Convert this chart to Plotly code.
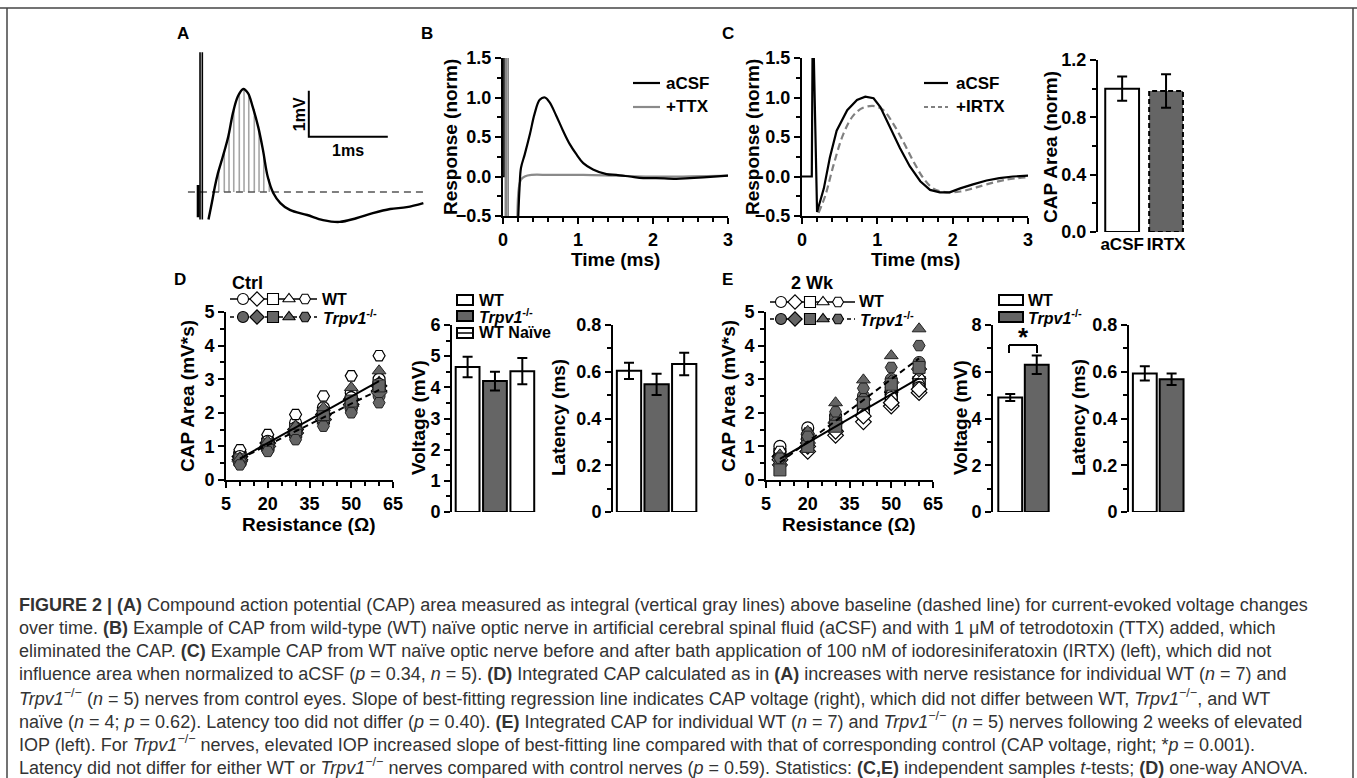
import plotly.graph_objects as go

W, H = 1357, 778
FONT = "Liberation Sans, Arial, Helvetica, sans-serif"
CAPFONT = "Liberation Sans Narrow, Arial Narrow, Liberation Sans, sans-serif"
GRAY = "#656565"

# ---------------- data ----------------
# Panel A: example CAP trace (ms, mV)
a_time = [0.12, 0.17, 0.20, 0.24, 0.30, 0.37, 0.43, 0.49, 0.56, 0.62, 0.68, 0.75, 0.81, 0.87,
          0.94, 1.03, 1.15, 1.37, 1.57, 1.78, 1.99, 2.20, 2.42, 2.63, 2.84]
a_volt = [-0.60, -0.17, 0.11, 0.41, 0.76, 1.20, 1.72, 2.07, 2.24, 2.15, 1.85, 1.41, 0.91, 0.33,
          -0.02, -0.24, -0.39, -0.50, -0.61, -0.65, -0.57, -0.46, -0.37, -0.33, -0.24]
a_artifact_t = [0.013, 0.042]
a_artifact_range = [-0.60, 3.04]
a_mark_t = -0.01
a_mark_range = [-0.55, 0.15]
a_integral_t = [0.25, 0.32, 0.38, 0.44, 0.51, 0.57, 0.63, 0.70, 0.76, 0.82, 0.89]
a_integral_v = [0.45, 0.85, 1.25, 1.78, 2.10, 2.23, 2.12, 1.80, 1.32, 0.80, 0.28]
a_baseline_t = [-0.14, 2.87]
a_scale_origin = [1.39, 1.20]   # 1 ms x 1 mV scale bar

# Panel B
b_t_acsf = [0.20, 0.22, 0.24, 0.29, 0.36, 0.42, 0.49, 0.56, 0.62, 0.71, 0.80, 0.89, 0.98, 1.07,
            1.20, 1.38, 1.51, 1.69, 1.87, 2.04, 2.31, 2.49, 2.67, 3.0]
b_acsf = [-0.60, -0.15, 0.11, 0.28, 0.54, 0.79, 0.97, 1.00, 0.94, 0.77, 0.58, 0.41, 0.28, 0.17,
          0.09, 0.03, 0.02, 0.00, -0.02, -0.02, -0.03, -0.02, -0.01, 0.01]
b_t_ttx = [0.19, 0.21, 0.24, 0.29, 0.38, 0.62, 1.07, 1.51, 1.96, 2.40, 3.0]
b_ttx = [-0.60, -0.15, -0.04, 0.00, 0.02, 0.02, 0.02, 0.01, 0.00, 0.00, 0.01]
b_stim_black_t = [0.0, 0.012, 0.012]
b_stim_black_v = [0.0, 0.0, 1.6]
b_stim_gray_t = [0.03, 0.05, 0.07]

# Panel C
c_t_acsf = [0.0, 0.13, 0.14, 0.155, 0.20, 0.29, 0.37, 0.46, 0.60, 0.73, 0.84, 0.95, 1.04, 1.17,
            1.30, 1.43, 1.57, 1.70, 1.83, 1.96, 2.10, 2.27, 2.45, 2.62, 2.80, 3.0]
c_acsf = [0.0, 0.0, 1.6, 1.6, -0.45, -0.15, 0.24, 0.58, 0.84, 0.97, 1.01, 0.99, 0.88, 0.62,
          0.36, 0.13, -0.06, -0.17, -0.20, -0.20, -0.15, -0.10, -0.05, -0.02, 0.00, 0.01]
c_t_irtx = [0.22, 0.31, 0.42, 0.55, 0.68, 0.81, 0.97, 1.08, 1.21, 1.35, 1.48, 1.61, 1.74, 1.92,
            2.10, 2.27, 2.45, 2.71, 3.0]
c_irtx = [-0.46, -0.24, 0.15, 0.54, 0.77, 0.87, 0.89, 0.84, 0.67, 0.43, 0.19, -0.02, -0.15, -0.20,
          -0.19, -0.15, -0.10, -0.04, -0.01]

# Panel C bar
cbar_labels = ["aCSF", "IRTX"]
cbar_vals = [1.00, 0.984]
cbar_err = [0.085, 0.117]

# Panel D / E scatter
resistance = [10, 20, 30, 40, 50, 60]
symbols = ["circle", "diamond", "square", "triangle-up", "hexagon2"]
d_wt = [
    [0.80, 1.20, 1.70, 2.15, 2.60, 3.00],
    [0.70, 1.10, 1.50, 1.95, 2.40, 2.80],
    [0.65, 1.05, 1.45, 1.85, 2.30, 2.75],
    [0.75, 1.20, 1.60, 2.00, 2.50, 2.90],
    [0.90, 1.35, 1.95, 2.50, 3.10, 3.70],
    [0.70, 1.15, 1.55, 2.05, 2.45, 2.85],
    [0.60, 1.00, 1.40, 1.80, 2.25, 2.65],
]
d_trpv1 = [
    [0.50, 0.90, 1.30, 1.75, 2.10, 2.50],
    [0.55, 1.00, 1.40, 1.80, 2.20, 2.60],
    [0.60, 1.05, 1.50, 1.95, 2.35, 2.80],
    [0.65, 1.15, 1.60, 2.15, 2.75, 3.25],
    [0.45, 0.85, 1.20, 1.60, 2.00, 2.30],
]
d_fit = {"wt": (0.046, 0.18), "trpv1": (0.041, 0.22)}   # slope, intercept

e_wt = [
    [1.00, 1.55, 1.90, 2.35, 2.75, 2.95],
    [0.70, 0.85, 1.33, 1.73, 2.20, 2.60],
    [0.75, 1.20, 1.65, 2.10, 2.50, 2.90],
    [0.80, 1.30, 1.80, 2.30, 2.70, 3.10],
    [0.85, 1.40, 1.75, 2.20, 2.55, 2.85],
    [0.65, 1.10, 1.50, 2.00, 2.45, 2.75],
    [0.60, 1.00, 1.45, 1.90, 2.30, 2.70],
]
e_trpv1 = [
    [0.55, 1.20, 1.85, 2.50, 3.00, 3.50],
    [0.45, 1.10, 1.70, 2.40, 2.90, 3.30],
    [0.30, 1.00, 1.60, 2.30, 2.85, 3.35],
    [0.75, 1.45, 2.30, 2.98, 3.70, 4.50],
    [0.65, 1.30, 2.03, 2.73, 3.35, 4.00],
]
e_fit = {"wt": (0.048, 0.15), "trpv1": (0.062, -0.10)}
fit_range = [10, 60]

# Bars
d_volt = [4.65, 4.20, 4.52]
d_volt_err = [0.33, 0.30, 0.42]
d_lat = [0.604, 0.546, 0.633]
d_lat_err = [0.035, 0.045, 0.048]
e_volt = [4.90, 6.30]
e_volt_err = [0.15, 0.40]
e_lat = [0.593, 0.568]
e_lat_err = [0.030, 0.025]

caption_lines = [
    "<b>FIGURE 2 | (A)</b> Compound action potential (CAP) area measured as integral (vertical gray lines) above baseline (dashed line) for current-evoked voltage changes",
    "over time. <b>(B)</b> Example of CAP from wild-type (WT) naïve optic nerve in artificial cerebral spinal fluid (aCSF) and with 1 μM of tetrodotoxin (TTX) added, which",
    "eliminated the CAP. <b>(C)</b> Example CAP from WT naïve optic nerve before and after bath application of 100 nM of iodoresiniferatoxin (IRTX) (left), which did not",
    "influence area when normalized to aCSF (<i>p</i> = 0.34, <i>n</i> = 5). <b>(D)</b> Integrated CAP calculated as in <b>(A)</b> increases with nerve resistance for individual WT (<i>n</i> = 7) and",
    "<i>Trpv1</i><sup>−/−</sup> (<i>n</i> = 5) nerves from control eyes. Slope of best-fitting regression line indicates CAP voltage (right), which did not differ between WT, <i>Trpv1</i><sup>−/−</sup>, and WT",
    "naïve (<i>n</i> = 4; <i>p</i> = 0.62). Latency too did not differ (<i>p</i> = 0.40). <b>(E)</b> Integrated CAP for individual WT (<i>n</i> = 7) and <i>Trpv1</i><sup>−/−</sup> (<i>n</i> = 5) nerves following 2 weeks of elevated",
    "IOP (left). For <i>Trpv1</i><sup>−/−</sup> nerves, elevated IOP increased slope of best-fitting line compared with that of corresponding control (CAP voltage, right; *<i>p</i> = 0.001).",
    "Latency did not differ for either WT or <i>Trpv1</i><sup>−/−</sup> nerves compared with control nerves (<i>p</i> = 0.59). Statistics: <b>(C,E)</b> independent samples <i>t</i>-tests; <b>(D)</b> one-way ANOVA.",
]

# ---------------- helpers ----------------
fig = go.Figure()

def PX(x):
    return x / W

def PY(y):
    return 1 - y / H

def box(l, t, r, b):
    return [l / W, r / W], [1 - b / H, 1 - t / H]

tickfont = dict(family=FONT, size=18, color="black", weight="bold")

def num_axis(domain, rng, dtick, minor_dtick, anchor, fmt=None, tickvals=None, ticktext=None):
    d = dict(domain=domain, range=rng, showline=True, linecolor="black", linewidth=2,
             ticks="outside", ticklen=6, tickwidth=2, tickcolor="black",
             showgrid=False, zeroline=False, tickfont=tickfont, anchor=anchor,
             fixedrange=True, automargin=False)
    if tickvals is not None:
        d["tickmode"] = "array"
        d["tickvals"] = tickvals
        if ticktext is not None:
            d["ticktext"] = ticktext
    else:
        d["dtick"] = dtick
        d["tick0"] = 0
    if minor_dtick:
        d["minor"] = dict(dtick=minor_dtick, tick0=0, ticks="outside", ticklen=4, tickwidth=1.5,
                          tickcolor="black", showgrid=False)
    if fmt:
        d["tickformat"] = fmt
    return d

def bar_xaxis(domain, rng, anchor, labels=None):
    d = dict(domain=domain, range=rng, showline=False, showgrid=False, zeroline=False,
             ticks="", anchor=anchor, fixedrange=True, automargin=False)
    if labels:
        d["tickmode"] = "array"
        d["tickvals"] = list(range(len(labels)))
        d["ticktext"] = labels
        d["tickfont"] = dict(family=FONT, size=17, color="black", weight="bold")
    else:
        d["showticklabels"] = False
    return d

layout = dict(template="none", width=W, height=H, autosize=False,
              margin=dict(l=0, r=0, t=0, b=0, pad=0, autoexpand=False),
              paper_bgcolor="white", plot_bgcolor="rgba(0,0,0,0)", showlegend=False)
annotations = []
shapes = []

def text(x, y, s, size=18, angle=0, anchor="center", bold=True, color="black", family=FONT):
    annotations.append(dict(x=PX(x), y=PY(y), xref="paper", yref="paper", text=s, showarrow=False,
                            textangle=angle, xanchor=anchor, yanchor="middle",
                            font=dict(family=family, size=size, color=color,
                                      weight="bold" if bold else "normal")))

def seg(x0, y0, x1, y1, color="black", width=2, dash="solid"):
    shapes.append(dict(type="line", xref="paper", yref="paper", x0=PX(x0), y0=PY(y0),
                       x1=PX(x1), y1=PY(y1), line=dict(color=color, width=width, dash=dash)))

def rect(x0, y0, x1, y1, fill, width=2):
    shapes.append(dict(type="rect", xref="paper", yref="paper", x0=PX(x0), y0=PY(y0),
                       x1=PX(x1), y1=PY(y1), fillcolor=fill, line=dict(color="black", width=width)))

# ---------------- Panel A ----------------
xd, yd = box(183.2, 49.4, 428.1, 224.2)
layout["xaxis"] = dict(domain=xd, range=[-0.2, 2.9], visible=False, anchor="y", fixedrange=True)
layout["yaxis"] = dict(domain=yd, range=[-0.7, 3.1], visible=False, anchor="x", fixedrange=True)

ix, iy = [], []
for t, v in zip(a_integral_t, a_integral_v):
    ix += [t, t, None]
    iy += [0, v, None]
fig.add_trace(go.Scatter(x=ix, y=iy, mode="lines", line=dict(color="#a6a6a6", width=1.6),
                         xaxis="x", yaxis="y"))
fig.add_trace(go.Scatter(x=a_baseline_t, y=[0, 0], mode="lines",
                         line=dict(color="#555555", width=1.6, dash="7px,5px"), xaxis="x", yaxis="y"))
artx, arty = [], []
for t in a_artifact_t:
    artx += [t, t, None]
    arty += [a_artifact_range[0], a_artifact_range[1], None]
fig.add_trace(go.Scatter(x=artx, y=arty, mode="lines", line=dict(color="black", width=1.6),
                         xaxis="x", yaxis="y"))
fig.add_trace(go.Scatter(x=[a_mark_t, a_mark_t], y=a_mark_range, mode="lines",
                         line=dict(color="black", width=3), xaxis="x", yaxis="y"))
fig.add_trace(go.Scatter(x=a_time, y=a_volt, mode="lines",
                         line=dict(color="black", width=2.4, shape="spline"),
                         xaxis="x", yaxis="y"))
sx, sy = a_scale_origin
fig.add_trace(go.Scatter(x=[sx, sx, sx + 1.0], y=[sy + 1.0, sy, sy], mode="lines",
                         line=dict(color="black", width=2), xaxis="x", yaxis="y"))
annotations.append(dict(x=sx - 0.12, y=sy + 0.5, xref="x", yref="y", text="1mV", textangle=-90,
                        showarrow=False, font=dict(family=FONT, size=16, color="black", weight="bold")))
annotations.append(dict(x=sx + 0.5, y=sy - 0.29, xref="x", yref="y", text="1ms",
                        showarrow=False, font=dict(family=FONT, size=16, color="black", weight="bold")))

# ---------------- Panel B ----------------
xd, yd = box(503, 58, 728, 216)
layout["xaxis2"] = num_axis(xd, [0, 3], 1, 0.2, "y2")
layout["yaxis2"] = num_axis(yd, [-0.5, 1.5], 0.5, 0.25, "x2", fmt=".1f")
gx, gy = [], []
for t in b_stim_gray_t:
    gx += [t, t, None]
    gy += [-0.6, 1.6, None]
fig.add_trace(go.Scatter(x=gx, y=gy, mode="lines", line=dict(color="#888888", width=1.5),
                         xaxis="x2", yaxis="y2"))
fig.add_trace(go.Scatter(x=b_stim_black_t, y=b_stim_black_v, mode="lines",
                         line=dict(color="black", width=1.5), xaxis="x2", yaxis="y2"))
fig.add_trace(go.Scatter(x=b_t_ttx, y=b_ttx, mode="lines",
                         line=dict(color="#8a8a8a", width=2.2, shape="spline"),
                         xaxis="x2", yaxis="y2"))
fig.add_trace(go.Scatter(x=b_t_acsf, y=b_acsf, mode="lines",
                         line=dict(color="black", width=2.2, shape="spline"),
                         xaxis="x2", yaxis="y2"))

# ---------------- Panel C ----------------
xd, yd = box(802, 58, 1028, 216)
layout["xaxis3"] = num_axis(xd, [0, 3], 1, 0.2, "y3")
layout["yaxis3"] = num_axis(yd, [-0.5, 1.5], 0.5, 0.25, "x3", fmt=".1f")
fig.add_trace(go.Scatter(x=c_t_irtx, y=c_irtx, mode="lines",
                         line=dict(color="#808080", width=2.2, dash="7px,4px", shape="spline"),
                         xaxis="x3", yaxis="y3"))
fig.add_trace(go.Scatter(x=c_t_acsf, y=c_acsf, mode="lines", line=dict(color="black", width=2.2),
                         xaxis="x3", yaxis="y3"))

# ---------------- Panel C bar ----------------
xd, yd = box(1098, 60, 1188, 232)
layout["xaxis4"] = bar_xaxis(xd, [-0.55, 1.5], "y4", labels=cbar_labels)
layout["yaxis4"] = num_axis(yd, [0, 1.2], 0.4, 0.2, "x4", fmt=".1f")
cbw = 0.77
fig.add_trace(go.Bar(x=[0, 1], y=cbar_vals, width=cbw,
                     marker=dict(color=["white", GRAY], line=dict(color=["black", "rgba(0,0,0,0)"], width=2)),
                     error_y=dict(type="data", array=cbar_err, color="black", thickness=2, width=5),
                     xaxis="x4", yaxis="y4"))
i = 1
fig.add_trace(go.Scatter(x=[i - cbw / 2, i - cbw / 2, i + cbw / 2, i + cbw / 2, i - cbw / 2],
                         y=[0, cbar_vals[i], cbar_vals[i], 0, 0], mode="lines",
                         line=dict(color="black", width=2, dash="5px,3px"), xaxis="x4", yaxis="y4"))

# ---------------- Panel D / E scatter ----------------
def scatter_panel(n, xdom, ydom, wt, tr, fit):
    xa, ya = f"x{n}", f"y{n}"
    layout[f"xaxis{n}"] = num_axis(xdom, [5, 65], None, 5, ya, tickvals=[5, 20, 35, 50, 65])
    layout[f"yaxis{n}"] = num_axis(ydom, [0, 5], 1, 0.5, xa)
    for k, vals in enumerate(wt):
        fig.add_trace(go.Scatter(x=resistance, y=vals, mode="markers",
                                 marker=dict(symbol=symbols[k % 5], size=12, color="white",
                                             line=dict(color="black", width=1.2)),
                                 xaxis=xa, yaxis=ya))
    for k, vals in enumerate(tr):
        fig.add_trace(go.Scatter(x=resistance, y=vals, mode="markers",
                                 marker=dict(symbol=symbols[k % 5], size=12, color=GRAY,
                                             line=dict(color="#222222", width=1)),
                                 xaxis=xa, yaxis=ya))
    for key, dash in (("wt", "solid"), ("trpv1", "6px,4px")):
        m, b0 = fit[key]
        fig.add_trace(go.Scatter(x=fit_range, y=[m * fit_range[0] + b0, m * fit_range[1] + b0],
                                 mode="lines", line=dict(color="black", width=2, dash=dash),
                                 xaxis=xa, yaxis=ya))

xd, yd = box(226, 312, 393, 480)
scatter_panel(5, xd, yd, d_wt, d_trpv1, d_fit)
xd, yd = box(766, 312, 933, 480)
scatter_panel(8, xd, yd, e_wt, e_trpv1, e_fit)

# ---------------- Bars ----------------
def bar_panel(n, xdom, ydom, xr, yr, dtick, minor, vals, errs, colors, patterns, bw, fmt=None):
    xa, ya = f"x{n}", f"y{n}"
    layout[f"xaxis{n}"] = bar_xaxis(xdom, xr, ya)
    layout[f"yaxis{n}"] = num_axis(ydom, yr, dtick, minor, xa, fmt=fmt)
    fig.add_trace(go.Bar(x=list(range(len(vals))), y=vals, width=bw,
                         marker=dict(color=colors, line=dict(color="black", width=2),
                                     pattern=dict(shape=patterns, fgcolor="black", fgopacity=1,
                                                  size=10, solidity=0.28)),
                         error_y=dict(type="data", array=errs, color="black", thickness=2, width=5),
                         xaxis=xa, yaxis=ya))

xd, yd = box(452, 325, 536, 512)
bar_panel(6, xd, yd, [-0.57, 2.5], [0, 6], 1, 0.5, d_volt, d_volt_err,
          ["white", GRAY, "white"], ["", "", "-"], 0.87)
xd, yd = box(613, 325, 698, 512)
bar_panel(7, xd, yd, [-0.58, 2.5], [0, 0.8], 0.2, 0.1, d_lat, d_lat_err,
          ["white", GRAY, "white"], ["", "", "-"], 0.88)
layout["yaxis7"]["tickvals"] = [0, 0.2, 0.4, 0.6, 0.8]
layout["yaxis7"]["ticktext"] = ["0", "0.2", "0.4", "0.6", "0.8"]
layout["yaxis7"]["tickmode"] = "array"
xd, yd = box(993, 325, 1050, 512)
bar_panel(9, xd, yd, [-0.65, 1.5], [0, 8], 2, 1, e_volt, e_volt_err,
          ["white", GRAY], ["", ""], 0.9)
xd, yd = box(1129, 325, 1185, 512)
bar_panel(10, xd, yd, [-0.59, 1.5], [0, 0.8], 0.2, 0.1, e_lat, e_lat_err,
          ["white", GRAY], ["", ""], 0.89)
layout["yaxis10"]["tickvals"] = [0, 0.2, 0.4, 0.6, 0.8]
layout["yaxis10"]["ticktext"] = ["0", "0.2", "0.4", "0.6", "0.8"]
layout["yaxis10"]["tickmode"] = "array"

# ---------------- overlay (pixel) axis for legend glyphs ----------------
layout["xaxis11"] = dict(domain=[0, 1], range=[0, W], visible=False, anchor="y11",
                         fixedrange=True, automargin=False)
layout["yaxis11"] = dict(domain=[0, 1], range=[H, 0], visible=False, anchor="x11",
                         fixedrange=True, automargin=False)

def marker_legend(x0, x1, xs, y, filled, dash):
    fig.add_trace(go.Scatter(x=[x0, x1], y=[y, y], mode="lines",
                             line=dict(color="black", width=1.6, dash=dash),
                             xaxis="x11", yaxis="y11"))
    fig.add_trace(go.Scatter(x=xs, y=[y] * len(xs), mode="markers",
                             marker=dict(symbol=symbols, size=11,
                                         color=GRAY if filled else "white",
                                         line=dict(color="black", width=1.1)),
                             xaxis="x11", yaxis="y11"))

marker_legend(230, 317, [243, 257, 273, 289, 305], 299, False, "solid")
marker_legend(230, 317, [243, 257, 273, 289, 305], 317, True, "4px,3px")
marker_legend(770, 855, [781, 795, 810, 823, 838], 302, False, "solid")
marker_legend(770, 855, [781, 795, 810, 823, 838], 319, True, "4px,3px")

# ---------------- text ----------------
TR = "<i>Trpv1</i><sup>-/-</sup>"
text(183, 33, "A", 17)
text(427, 33, "B", 17)
text(728, 33, "C", 17)
text(180, 279, "D", 17)
text(727, 279, "E", 17)

text(450, 137, "Response (norm)", 19, -90)
text(615, 259, "Time (ms)", 19)
text(752, 137, "Response (norm)", 19, -90)
text(915, 259, "Time (ms)", 19)
text(1050, 147, "CAP Area (norm)", 19, -90)

text(187, 396, "CAP Area (mV*s)", 19, -90)
text(309, 524, "Resistance (Ω)", 19)
text(418, 418, "Voltage (mV)", 19, -90)
text(558, 418, "Latency (ms)", 19, -90)
text(728, 396, "CAP Area (mV*s)", 19, -90)
text(849, 524, "Resistance (Ω)", 19)
text(960, 418, "Voltage (mV)", 19, -90)
text(1078, 418, "Latency (ms)", 19, -90)

text(247, 283, "Ctrl", 18)
text(812, 283, "2 Wk", 18)
text(320, 299, "WT", 16, anchor="left")
text(321, 317, TR, 16, anchor="left")
text(857, 302, "WT", 16, anchor="left")
text(858, 319, TR, 16, anchor="left")

# B / C legends
seg(633, 83, 660, 83, "black", 2.2)
text(664, 83, "aCSF", 17, anchor="left")
seg(633, 107, 660, 107, "#8a8a8a", 2.2)
text(664, 107, "+TTX", 17, anchor="left")
seg(924, 83, 948, 83, "black", 2.2)
text(954, 83, "aCSF", 17, anchor="left")
seg(924, 107, 948, 107, "#808080", 2.2, "4px,3px")
text(954, 107, "+IRTX", 17, anchor="left")

# D bar legend
rect(457, 295, 473, 305, "white")
rect(457, 311, 473, 321, GRAY)
rect(457, 328, 473, 338, "white")
seg(457, 333, 473, 333, "black", 1.5)
text(477, 300, "WT", 16, anchor="left")
text(477, 316, TR, 16, anchor="left")
text(477, 333, "WT Naïve", 16, anchor="left")
# E bar legend
rect(999, 295, 1023, 305, "white")
rect(999, 312, 1023, 322, GRAY)
text(1026, 300, "WT", 16, anchor="left")
text(1026, 317, TR, 16, anchor="left")
# significance bracket
seg(1009, 353, 1009, 345, "black", 2)
seg(1009, 345, 1037, 345, "black", 2)
seg(1037, 345, 1037, 353, "black", 2)
text(1023, 337, "*", 26)

# frame
seg(0, 8, W, 8, "#444444", 1.5)
seg(7, 8, 7, H, "#444444", 1.5)
seg(1353, 8, 1353, H, "#444444", 1.5)

# caption
for k, line in enumerate(caption_lines):
    annotations.append(dict(x=PX(17), y=PY(605 + 23 * k), xref="paper", yref="paper", text=line,
                            showarrow=False, xanchor="left", yanchor="middle", align="left",
                            font=dict(family=CAPFONT, size=18, color="#333333")))

layout["annotations"] = annotations
layout["shapes"] = shapes
fig.update_layout(**layout)
fig.write_html("out.html", config={"displayModeBar": False},
               post_script="document.body.style.margin='0px';document.body.style.padding='0px';"
                           "document.documentElement.style.overflow='hidden';")
